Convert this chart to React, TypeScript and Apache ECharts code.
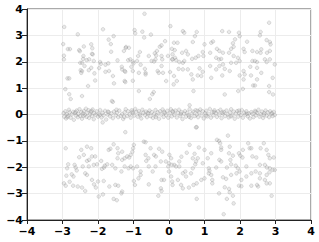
import React, { useEffect, useRef } from "react";
import * as echarts from "echarts";

const xTicks = [-4, -3, -2, -1, 0, 1, 2, 3, 4];
const yTicks = [-4, -3, -2, -1, 0, 1, 2, 3, 4];

const topBand: number[][] = [
  [-2.95,3.32],[-2.57,3.04],[-1.86,3.23],[-0.69,3.82],[-0.97,3.2],[-0.95,3.08],[-0.75,3.14],[-0.7,2.92],[-0.51,3.03],[0.04,3.35],
  [-1.56,2.97],[-1.7,2.84],[-1.64,2.67],[-2.98,2.67],[-2.85,2.48],[-2.79,2.48],[-2.96,2.23],[-2.96,2.09],[-2.53,2.44],[-2.51,2.4],
  [-2.4,2.58],[-2.19,2.66],[-2.16,2.51],[-2.41,2.22],[-2.42,2.11],[-2.45,1.96],[-2.5,1.96],[-2.15,2.28],[-2.17,2.3],[-2.25,2.09],
  [-2.32,2.06],[-2.12,2.03],[-2.38,1.84],[-2.49,1.68],[-2.45,1.65],[-2.47,1.58],[-2.26,1.68],[-2.19,1.77],[-2.1,1.56],[-2.08,1.29],
  [-2.28,1.08],[-2.86,1.37],[-2.81,1.37],[-2.92,0.96],[-2.81,0.77],[-2.77,0.59],[-2.45,0.7],[-1.94,1.99],[-1.92,1.92],[-1.79,1.89],
  [-1.97,1.76],[-1.79,1.62],[-1.69,1.65],[-1.71,1.94],[-1.63,2.38],[-1.45,2.05],[-1.58,1.46],[-1.55,1.18],[-1.32,1.71],[-1.25,1.65],
  [-1.23,1.62],[-1.33,1.81],[-1.27,2.41],[-1.21,2.56],[-1.13,2.53],[-1.22,2.53],[-1.15,2.06],[-1.09,2.09],[-1.02,2.01],[-1.0,1.94],
  [-1.06,1.81],[-1.02,1.65],[-1.25,1.27],[-1.23,1.23],[-1.02,1.28],[-0.85,0.89],[-1.58,0.48],[-0.87,2.22],[-0.82,2.37],[-0.9,2.03],
  [-0.8,1.89],[-0.85,1.58],[-0.68,1.73],[-0.66,1.58],[-0.66,1.52],[-0.57,2.22],[-0.49,2.03],[-0.4,2.32],[-0.36,2.24],[-0.42,2.01],
  [-0.38,2.09],[-0.34,2.41],[-0.26,2.57],[-0.21,2.62],[-0.11,2.78],[-0.21,2.22],[-0.19,2.09],[-0.21,1.84],[-0.32,1.65],[-0.29,1.58],
  [-0.17,1.58],[-0.03,2.22],[0.09,2.09],[-0.08,1.27],[-0.47,0.77],[-0.43,0.85],[-0.54,0.59],
  [2.82,3.48],[0.39,3.16],[0.43,3.1],[0.78,3.13],[0.73,2.97],[0.67,2.75],[1.5,3.16],[1.69,3.13],[1.97,3.1],[1.99,2.97],
  [1.86,2.85],[1.8,2.7],[2.2,2.76],[2.58,3.13],[2.56,3.0],[2.75,2.82],[2.84,2.75],[2.86,2.66],[0.14,2.72],[0.24,2.72],
  [0.08,2.49],[0.16,2.44],[0.1,2.28],[0.17,2.15],[0.1,2.09],[0.2,2.06],[0.29,1.99],[0.39,1.96],[0.43,2.03],[0.37,2.34],
  [0.48,2.41],[0.53,2.28],[0.65,2.11],[0.75,2.15],[0.83,2.22],[0.27,1.73],[0.39,1.71],[0.03,1.61],[0.14,1.46],[0.22,1.27],
  [0.13,1.14],[0.53,1.71],[0.63,1.52],[0.67,1.33],[0.81,1.48],[0.91,1.46],[0.69,0.89],[1.0,2.66],[0.95,2.37],[0.97,2.22],
  [1.19,2.72],[1.24,2.77],[1.16,2.34],[1.35,2.49],[1.33,2.15],[1.41,2.09],[1.47,2.11],[1.42,2.41],[1.52,2.34],[1.16,1.84],
  [1.33,1.71],[1.42,1.84],[1.52,1.9],[1.57,1.73],[1.19,1.39],[1.5,1.48],[1.71,1.65],[1.69,2.34],[1.75,2.49],[1.82,2.57],
  [1.82,2.22],[1.94,2.15],[1.89,1.96],[1.99,2.03],[1.75,1.96],[1.99,1.48],[2.1,1.65],[2.13,1.52],[2.1,1.33],[2.08,0.97],
  [1.95,0.89],[1.57,0.76],[2.1,2.49],[2.13,2.37],[2.35,2.41],[2.48,2.37],[2.6,2.47],[2.35,2.03],[2.42,2.03],[2.48,1.99],
  [2.58,2.34],[2.7,2.09],[2.76,2.34],[2.75,1.99],[2.84,2.09],[2.84,2.41],[2.98,1.9],[2.48,1.77],[2.6,1.58],[2.31,1.48],
  [2.48,1.33],[2.37,1.1],[2.42,1.1],[2.92,1.39],[2.82,1.08],[2.82,0.85],[2.93,0.76],[2.29,1.81],[0.95,1.62],[0.86,1.75]
];

const midBand: number[][] = [
  [-2.97,0.05],[-2.95,-0.08],[-2.92,0.12],[-2.9,-0.15],[-2.88,0.02],[-2.85,-0.05],[-2.82,0.18],[-2.8,0.08],[-2.77,-0.12],[-2.74,0.0],
  [-2.7,0.1],[-2.68,-0.2],[-2.65,0.06],[-2.62,-0.04],[-2.6,0.15],[-2.57,-0.1],[-2.55,0.02],[-2.52,0.2],[-2.5,-0.06],[-2.47,0.09],
  [-2.45,-0.16],[-2.42,0.04],[-2.4,0.13],[-2.37,-0.02],[-2.34,0.22],[-2.32,-0.09],[-2.3,0.07],[-2.27,0.16],[-2.25,-0.13],[-2.22,0.01],
  [-2.2,0.1],[-2.17,-0.05],[-2.15,0.19],[-2.12,-0.18],[-2.1,0.05],[-2.07,-0.02],[-2.04,0.12],[-2.0,-0.08],[-1.97,0.03],[-1.94,0.17],
  [-1.9,-0.11],[-1.87,0.06],[-1.84,-0.03],[-1.8,0.14],[-1.77,-0.19],[-1.73,0.0],[-1.7,0.09],[-1.66,-0.07],[-1.62,0.04],[-1.58,-0.14],
  [-1.55,0.11],[-1.5,-0.03],[-1.47,0.07],[-1.43,-0.1],[-1.4,0.15],[-1.36,-0.05],[-1.32,0.02],[-1.29,-0.17],[-1.25,0.08],[-1.22,0.2],
  [-1.18,-0.06],[-1.15,0.12],[-1.11,0.01],[-1.08,-0.12],[-1.05,0.16],[-1.02,0.05],[-0.98,-0.04],[-0.95,0.21],[-0.92,0.1],[-0.88,-0.08],
  [-0.85,0.13],[-0.82,0.03],[-0.78,-0.15],[-0.75,0.18],[-0.72,0.07],[-0.68,-0.02],[-0.65,0.11],[-0.62,-0.1],[-0.58,0.04],[-0.55,0.15],
  [-0.52,-0.06],[-0.48,0.09],[-0.45,-0.13],[-0.42,0.02],[-0.38,0.17],[-0.35,-0.03],[-0.32,0.08],[-0.28,-0.16],[-0.25,0.12],[-0.22,0.0],
  [-0.18,0.19],[-0.15,-0.09],[-0.12,0.06],[-0.08,-0.02],[-0.05,0.14],[-0.02,-0.12],[0.02,0.05],[0.05,0.2],[0.08,-0.07],[0.12,0.1],
  [0.15,-0.01],[0.18,0.15],[0.22,-0.11],[0.25,0.06],[0.28,0.18],[0.32,-0.05],[0.35,0.09],[0.38,-0.17],[0.42,0.03],[0.45,0.13],
  [0.48,-0.08],[0.52,0.07],[0.55,-0.02],[0.58,0.2],[0.62,-0.13],[0.65,0.04],[0.68,0.11],[0.72,-0.06],[0.75,0.16],[0.78,0.0],
  [0.82,-0.1],[0.85,0.08],[0.88,0.19],[0.92,-0.04],[0.95,0.12],[0.98,-0.15],[1.02,0.05],[1.05,0.14],[1.08,-0.07],[1.12,0.02],
  [1.15,0.21],[1.18,-0.12],[1.22,0.09],[1.25,-0.03],[1.28,0.16],[1.32,0.06],[1.35,-0.09],[1.38,0.12],[1.42,-0.01],[1.45,0.18],
  [1.48,-0.14],[1.52,0.04],[1.55,0.1],[1.58,-0.06],[1.62,0.15],[1.65,0.01],[1.68,-0.11],[1.72,0.08],[1.75,0.2],[1.78,-0.04],
  [1.82,0.11],[1.85,-0.16],[1.88,0.03],[1.92,0.13],[1.95,-0.08],[1.98,0.06],[2.02,-0.02],[2.05,0.17],[2.08,-0.12],[2.12,0.07],
  [2.15,0.0],[2.18,0.12],[2.22,-0.07],[2.25,0.04],[2.28,-0.15],[2.32,0.09],[2.35,0.02],[2.38,-0.1],[2.42,0.14],[2.45,-0.03],
  [2.48,0.06],[2.52,0.18],[2.55,-0.08],[2.58,0.01],[2.62,0.11],[2.65,-0.13],[2.68,0.05],[2.72,0.15],[2.75,-0.04],[2.78,0.08],
  [2.82,-0.1],[2.85,0.12],[2.88,0.02],[2.92,-0.06],[2.95,0.1],[2.98,-0.02],
  [-2.86,-0.1],[-2.63,0.09],[-2.41,-0.05],[-2.18,0.14],[-1.95,-0.02],[-1.72,0.11],[-1.48,0.18],[-1.26,-0.09],[-1.03,0.1],[-0.81,-0.03],
  [-0.6,0.06],[-0.37,-0.1],[-0.14,0.1],[0.1,0.12],[0.33,0.02],[0.57,-0.09],[0.8,0.14],[1.04,-0.04],[1.27,0.1],[1.5,0.08],
  [1.74,-0.07],[1.97,0.15],[2.2,0.03],[2.44,0.1],[2.67,-0.02],[2.9,0.05],[-1.61,0.51],[0.78,-0.48],[-1.87,-0.3],[0.58,0.35]
];

const bottomBand: number[][] = [
  [-1.23,-0.67],[-2.91,-1.28],[-2.47,-1.34],[-2.31,-1.22],[-2.19,-1.28],[-2.4,-1.53],[-2.53,-1.62],[-2.17,-1.59],[-2.08,-1.59],[-2.31,-1.76],
  [-2.25,-1.72],[-2.84,-1.89],[-2.87,-2.04],[-2.66,-1.91],[-2.63,-2.01],[-2.43,-1.97],[-2.26,-1.97],[-2.12,-1.91],[-2.03,-1.89],[-2.74,-2.27],
  [-2.89,-2.32],[-2.69,-2.35],[-2.96,-2.61],[-2.91,-2.7],[-2.7,-2.7],[-2.57,-2.73],[-2.45,-2.77],[-2.36,-2.23],[-2.31,-2.29],[-2.17,-2.48],
  [-2.11,-2.65],[-2.06,-2.77],[-2.36,-2.9],[-2.0,-2.54],[-1.89,-2.06],[-1.83,-2.01],[-1.81,-1.94],[-1.74,-1.89],[-1.91,-1.76],[-1.7,-1.34],
  [-1.65,-1.3],[-1.56,-1.13],[-1.45,-1.28],[-1.43,-1.47],[-1.32,-1.41],[-1.45,-1.66],[-1.32,-1.72],[-1.25,-1.66],[-1.18,-1.59],[-1.08,-1.53],
  [-0.99,-1.15],[-1.01,-1.28],[-1.03,-1.41],[-1.12,-1.63],[-1.6,-1.91],[-1.51,-2.04],[-1.34,-2.16],[-1.25,-1.97],[-1.08,-1.97],[-1.14,-2.04],
  [-1.01,-2.04],[-0.9,-1.97],[-0.8,-2.16],[-0.8,-2.29],[-0.86,-2.42],[-0.99,-2.52],[-0.96,-2.67],[-1.84,-2.52],[-1.68,-2.73],[-1.51,-2.67],
  [-1.43,-2.7],[-1.32,-2.92],[-1.34,-2.99],[-1.98,-3.11],[-1.86,-3.03],[-1.56,-3.2],[-1.47,-3.25],[-0.71,-1.03],[-0.66,-1.05],[-0.66,-1.53],
  [-0.58,-1.66],[-0.64,-1.76],[-0.52,-1.28],[-0.42,-1.53],[-0.37,-1.59],[-0.28,-1.3],[-0.19,-1.41],[-0.23,-1.78],[-0.09,-1.78],[0.0,-1.85],
  [0.08,-1.91],[-0.02,-1.97],[-0.57,-1.97],[-0.38,-1.97],[-0.46,-2.16],[-0.57,-2.65],[-0.21,-2.48],[-0.14,-2.48],[-0.23,-2.8],[-0.21,-2.9],
  [-0.3,-3.08],[0.0,-2.16],[0.06,-2.35],[0.09,-2.54],[-2.6,-2.12],[-2.8,-2.55],
  [0.76,-0.49],[0.01,-1.53],[0.06,-1.66],[0.15,-1.91],[0.2,-1.97],[0.29,-1.78],[0.29,-1.97],[0.39,-2.23],[0.46,-2.16],[0.48,-2.35],
  [0.25,-2.48],[0.34,-2.67],[0.1,-2.67],[0.58,-1.15],[0.62,-2.23],[0.67,-2.04],[0.67,-1.66],[0.72,-1.49],[0.76,-1.78],[0.74,-1.89],
  [0.81,-1.66],[0.84,-1.25],[1.0,-1.34],[0.95,-1.85],[0.91,-2.48],[0.78,-2.61],[0.69,-2.67],[0.56,-2.77],[0.39,-2.8],[0.78,-3.2],
  [1.0,-2.42],[1.09,-1.66],[1.19,-1.47],[1.12,-2.04],[1.12,-2.23],[1.19,-2.29],[1.22,-2.48],[1.22,-2.61],[1.14,-2.13],[1.35,-0.96],
  [1.41,-1.0],[1.44,-1.09],[1.47,-1.25],[1.47,-1.34],[1.42,-1.72],[1.33,-2.01],[1.47,-1.78],[1.66,-0.8],[1.71,-1.22],[1.69,-1.47],
  [1.73,-1.72],[1.8,-1.56],[1.75,-1.89],[1.63,-2.01],[1.52,-2.38],[1.61,-2.44],[1.75,-2.29],[1.57,-2.76],[1.69,-2.82],[1.71,-2.95],
  [1.41,-2.99],[1.63,-3.2],[1.8,-3.08],[1.82,-3.37],[1.54,-3.78],[1.97,-1.47],[2.01,-1.56],[2.07,-1.63],[2.08,-1.34],[1.88,-1.94],
  [1.94,-2.04],[1.99,-2.16],[1.9,-2.23],[2.04,-2.48],[1.97,-2.7],[2.04,-2.72],[2.18,-1.97],[2.23,-1.09],[2.27,-1.28],[2.32,-1.28],
  [2.35,-1.59],[2.46,-1.63],[2.56,-1.91],[2.44,-2.16],[2.32,-2.23],[2.18,-2.35],[2.58,-1.28],[2.67,-1.09],[2.75,-1.34],[2.8,-1.53],
  [2.84,-1.66],[2.95,-1.63],[2.7,-1.91],[2.76,-2.01],[2.84,-2.04],[2.92,-2.1],[2.98,-2.1],[2.83,-2.19],[2.75,-2.29],[2.56,-2.23],
  [2.56,-2.42],[2.7,-2.48],[2.75,-2.61],[2.84,-2.61],[2.51,-2.73],[2.48,-2.67],[2.89,-3.08],[2.32,-2.7],[0.5,-1.45],[0.35,-1.6]
];

const fmt = (v: number) => (v < 0 ? "\u2212" + Math.abs(v) : String(v));

export default function App() {
  const ref = useRef<HTMLDivElement>(null);
  useEffect(() => {
    if (!ref.current) return;
    const chart = echarts.init(ref.current, null, { renderer: "svg" });
    const label = {
      color: "#000",
      fontFamily: "DejaVu Sans",
      fontWeight: "bold" as const,
      fontSize: 11,
      formatter: fmt,
    };
    const common = {
      type: "value" as const,
      min: xTicks[0],
      max: xTicks[xTicks.length - 1],
      interval: 1,
      axisLine: { show: true, onZero: false, lineStyle: { color: "#222", width: 1 } },
      splitLine: { show: true, lineStyle: { color: "#ececec", width: 1 } },
    };
    const series = [topBand, midBand, bottomBand].map((d) => ({
      type: "scatter" as const,
      data: d,
      symbolSize: 3.6,
      itemStyle: {
        color: "rgba(175,175,175,0.35)",
        borderColor: "rgba(120,120,120,0.45)",
        borderWidth: 0.6,
      },
    }));
    chart.setOption({
      animation: false,
      grid: {
        left: 27,
        right: 8,
        top: 9,
        bottom: 22,
        show: true,
        borderColor: "#555",
        borderWidth: 1,
        backgroundColor: "transparent",
      },
      xAxis: {
        ...common,
        axisTick: { show: true, length: 4, lineStyle: { color: "#222", width: 1 } },
        axisLabel: { ...label, margin: 6 },
      },
      yAxis: {
        ...common,
        min: yTicks[0],
        max: yTicks[yTicks.length - 1],
        axisTick: { show: true, length: 5, lineStyle: { color: "#222", width: 1 } },
        axisLabel: { ...label, margin: 4 },
      },
      series,
    });
    return () => chart.dispose();
  }, []);
  return <div ref={ref} style={{ width: 319, height: 242, position: "absolute", left: 0, top: 0 }} />;
}
